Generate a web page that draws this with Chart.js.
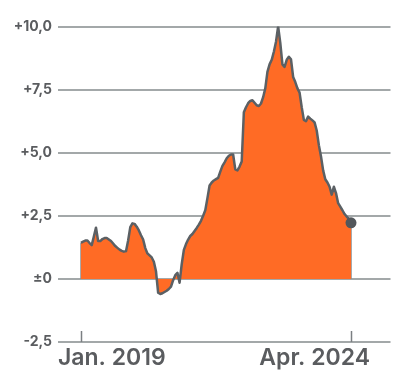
<!DOCTYPE html>
<html>
<head>
<meta charset="utf-8">
<script src="https://cdn.jsdelivr.net/npm/chart.js@4/dist/chart.umd.min.js"></script>
<style>
  html, body { margin: 0; padding: 0; background: #fff; }
  #wrap { width: 396px; height: 370px; }
</style>
</head>
<body>
<div id="wrap"><canvas id="chart" width="396" height="370"></canvas></div>
<script>
// Halbmonatliche Werte, Jan. 2019 bis Apr. 2024
const values = [
  1.43, 1.48, 1.52, 1.52, 1.42, 1.34, 1.68, 2.03, 1.50, 1.50,
  1.58, 1.62, 1.62, 1.56, 1.50, 1.40, 1.30, 1.23, 1.16, 1.11,
  1.08, 1.10, 1.52, 2.05, 2.20, 2.18, 2.07, 1.92, 1.73, 1.56,
  1.22, 1.01, 0.93, 0.85, 0.68, 0.30, -0.55, -0.60, -0.57, -0.52,
  -0.47, -0.40, -0.31, -0.05, 0.15, 0.24, -0.15, 0.58, 1.15, 1.38,
  1.56, 1.70, 1.78, 1.90, 2.02, 2.15, 2.30, 2.50, 2.72, 3.20,
  3.70, 3.82, 3.90, 3.95, 4.00, 4.25, 4.48, 4.62, 4.78, 4.88,
  4.93, 4.93, 4.34, 4.30, 4.45, 4.65, 6.60, 6.80, 6.96, 7.05,
  7.08, 6.98, 6.88, 6.85, 6.95, 7.20, 7.55, 8.20, 8.50, 8.68,
  9.00, 9.40, 10.00, 9.35, 8.50, 8.40, 8.68, 8.80, 8.70, 8.00,
  7.80, 7.55, 7.38, 6.80, 6.30, 6.25, 6.43, 6.35, 6.28, 6.20,
  5.88, 5.30, 4.85, 4.30, 3.95, 3.82, 3.65, 3.34, 3.65, 3.40,
  3.00, 2.86, 2.72, 2.57, 2.47, 2.38, 2.22
]
const xTickValues = [0, values.length - 1]
const xTickLabels = ["Jan. 2019", "Apr. 2024"]
const yTicks = [-2.5, 0, 2.5, 5, 7.5, 10]
const yTickLabels = ["-2,5", "±0", "+2,5", "+5,0", "+7,5", "+10,0"]

const last = values.length - 1
const points = values.map((y, i) => ({ x: i, y }))

// Achsenbeschriftung unten und kleine Striche am Achsenende
const xLabelsPlugin = {
  id: "xLabels",
  afterDraw(chart) {
    const { ctx, chartArea } = chart
    const xs = chart.scales.x
    ctx.save()
    ctx.strokeStyle = "#7b7f82"
    ctx.lineWidth = 1.5
    xTickValues.forEach((v) => {
      const px = Math.round(xs.getPixelForValue(v)) + 0.5
      ctx.beginPath()
      ctx.moveTo(px, chartArea.bottom - 11)
      ctx.lineTo(px, chartArea.bottom)
      ctx.stroke()
    })
    ctx.fillStyle = "#5a5c5f"
    ctx.font = "600 23px Inter, 'Open Sans', sans-serif"
    ctx.textBaseline = "alphabetic"
    ctx.textAlign = "left"
    ctx.fillText(xTickLabels[0], xs.getPixelForValue(xTickValues[0]) - 23, 365)
    ctx.textAlign = "right"
    ctx.fillText(xTickLabels[1], xs.getPixelForValue(xTickValues[1]) + 19, 365)
    ctx.restore()
  }
}

const chart = new Chart(document.getElementById("chart"), {
  type: "line",
  data: {
    datasets: [
      {
        data: points,
        borderColor: "#5b6064",
        borderWidth: 2.5,
        backgroundColor: "#ff6b25",
        fill: "origin",
        tension: 0,
        borderJoinStyle: "round",
        pointRadius: values.map((v, i) => (i === last ? 5.5 : 0)),
        pointBackgroundColor: "#52575b",
        pointBorderWidth: 0,
        order: 1
      },
      {
        // senkrechte Kanten der Fläche
        data: [
          { x: 0, y: 0 }, { x: 0, y: values[0] }, { x: 0, y: null },
          { x: last, y: 0 }, { x: last, y: values[last] }
        ],
        borderColor: "#8a8e91",
        borderWidth: 1.5,
        pointRadius: 0,
        fill: false,
        spanGaps: false,
        order: 2
      }
    ]
  },
  options: {
    responsive: false,
    animation: false,
    layout: { padding: { top: 26.5, bottom: 28, left: 0, right: 0 } },
    plugins: {
      legend: { display: false },
      tooltip: { enabled: false }
    },
    scales: {
      x: {
        type: "linear",
        display: false,
        min: -10.7,
        max: 147
      },
      y: {
        min: -2.5,
        max: 10,
        afterBuildTicks: (scale) => { scale.ticks = yTicks.map((v) => ({ value: v })) },
        afterFit: (scale) => { scale.width = 58 },
        border: { display: false },
        grid: { color: "#a3a8a9", lineWidth: 2, drawTicks: false },
        ticks: {
          padding: 6,
          color: "#5a5c5f",
          font: { family: "Inter, 'Open Sans', sans-serif", size: 14, weight: "bold" },
          callback: (v) => yTickLabels[yTicks.indexOf(v)]
        }
      }
    }
  },
  plugins: [xLabelsPlugin]
})

// erste Messung bei x=81, letzte bei x=351 ausrichten
const area = chart.chartArea
const k = (351 - 81) / last
chart.options.scales.x.min = -(81 - area.left) / k
chart.options.scales.x.max = last + (area.right - 351) / k
chart.update("none")
</script>
</body>
</html>
